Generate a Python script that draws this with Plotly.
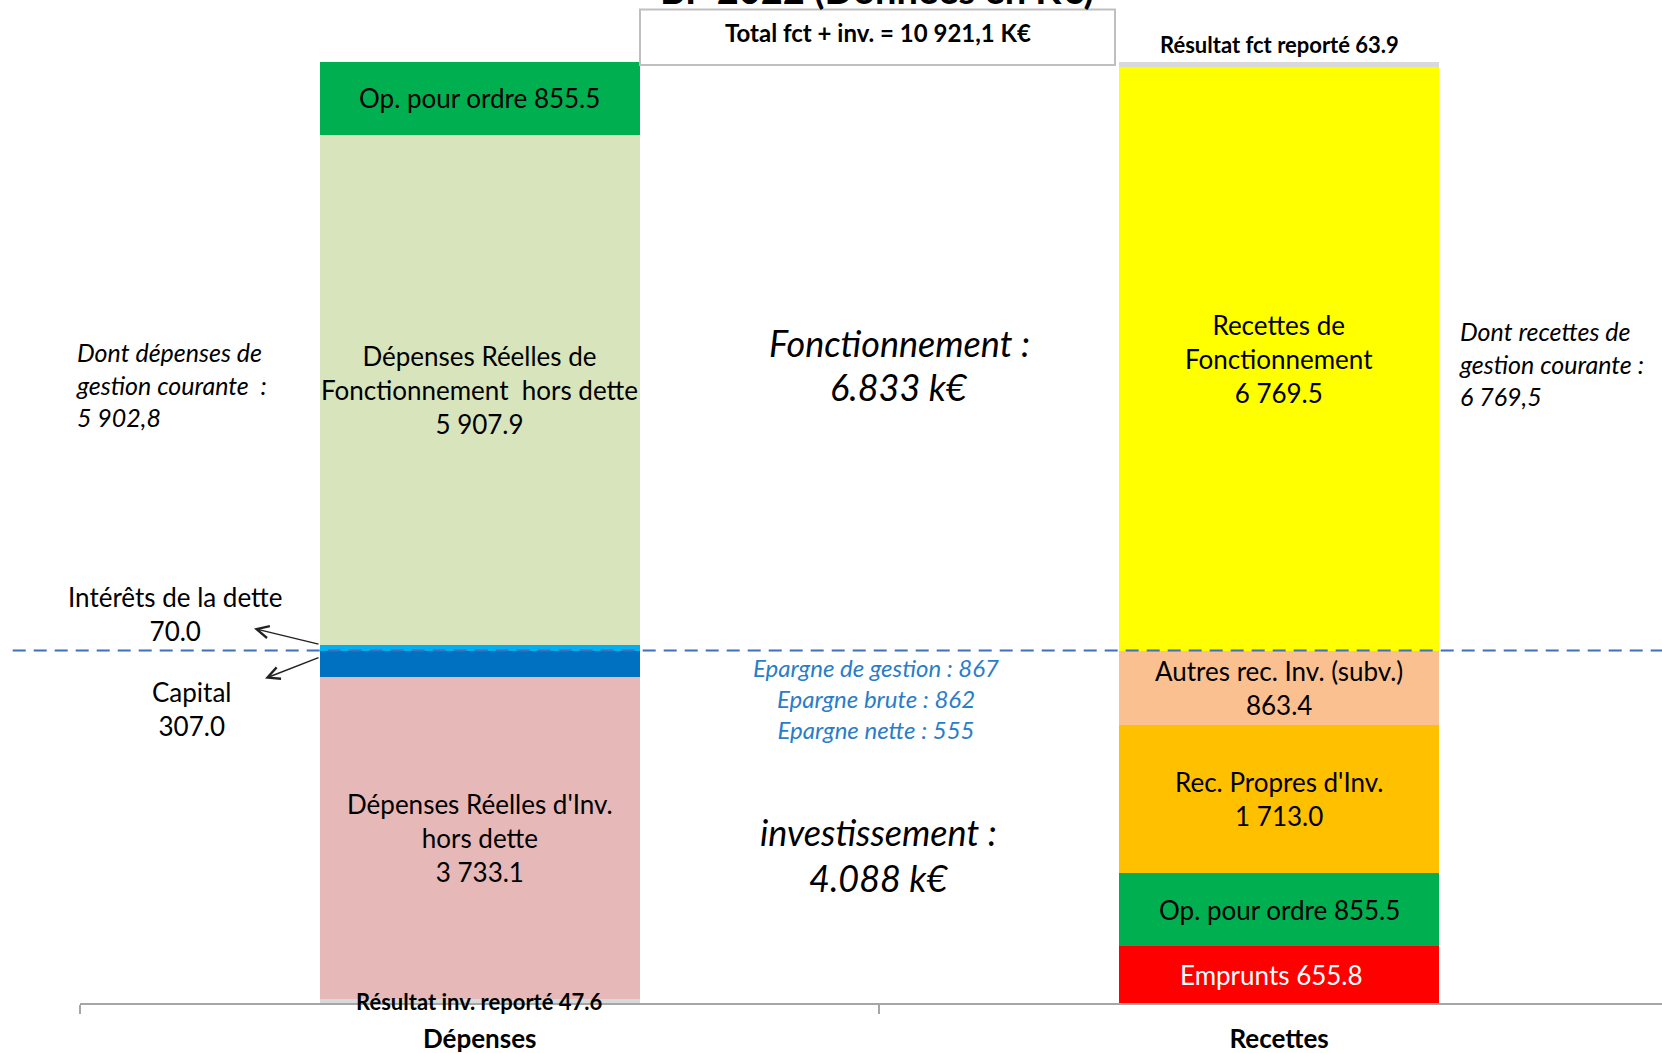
import plotly.graph_objects as go

# ---------------- data ----------------
categories = ["Dépenses", "Recettes"]

dep_names = ["Résultat inv. reporté", "Dépenses Réelles d'Inv.<br>hors dette", "Capital",
             "Intérêts de la dette", "Dépenses Réelles de<br>Fonctionnement  hors dette",
             "Op. pour ordre"]
dep_values = [47.6, 3733.1, 307.0, 70.0, 5907.9, 855.5]

rec_names = ["Emprunts", "Op. pour ordre", "Rec. Propres d'Inv.", "Autres rec. Inv. (subv.)",
             "Recettes de<br>Fonctionnement", "Résultat fct reporté"]
rec_values = [655.8, 855.5, 1713.0, 863.4, 6769.5, 63.9]

epargne_labels = ["Epargne de gestion", "Epargne brute", "Epargne nette"]
epargne_values = [867, 862, 555]

dep_gestion_courante = 5902.8
rec_gestion_courante = 6769.5
title_text = "BP 2022 (Données en K€)"

# ---------------- styles ----------------
dep_colors = ["#D9D9D9", "#E6B8B7", "#0070C0", "#00B0F0", "#D8E4BC", "#00B050"]
rec_colors = ["#FF0000", "#00B050", "#FFC000", "#FAC090", "#FFFF00", "#D9D9D9"]
dep_sep = [" ", "<br>", "<br>", "<br>", "<br>", " "]
rec_sep = [" ", " ", "<br>", "<br>", "<br>", " "]

FONT = "Lato"
W, H = 1662, 1053
ML, MR, MT, MB = 80, 0, 0, 50
PW, PH = W - ML - MR, H - MT - MB
BAR_TOP_PX = 61.5


def fmt(v):
    return f"{v:,.1f}".replace(",", " ")


def fmt_fr(v):
    return f"{v:,.1f}".replace(",", " ").replace(".", ",")


def px(xp):
    return (xp - ML) / PW


def py(yp):
    return (H - MB - yp) / PH


total = sum(dep_values)
y_max = total * PH / (PH - BAR_TOP_PX)

fig = go.Figure()
for names, vals, cols, cat in [(dep_names, dep_values, dep_colors, categories[0]),
                               (rec_names, rec_values, rec_colors, categories[1])]:
    for n, v, c in zip(names, vals, cols):
        fig.add_trace(go.Bar(x=[cat], y=[v], name=n.replace("<br>", " "), width=0.4,
                             marker=dict(color=c, line=dict(width=0)),
                             showlegend=False, hoverinfo="name+y"))

ann = []
TXT = dict(family=FONT, size=26, color="#000000")


def mids(vals):
    out, acc = [], 0
    for v in vals:
        out.append(acc + v / 2)
        acc += v
    return out


def note(xp, yp, text, font, xanchor="center", align="center", yanchor="middle"):
    return dict(x=px(xp), y=py(yp), xref="paper", yref="paper", showarrow=False,
                xanchor=xanchor, yanchor=yanchor, align=align, text=text, font=font)


dep_mid = mids(dep_values)
rec_mid = mids(rec_values)

# labels inside bars
for i in [1, 4, 5]:
    ann.append(dict(x=categories[0], y=dep_mid[i], xref="x", yref="y", showarrow=False,
                    xanchor="center", yanchor="middle",
                    text=dep_names[i] + dep_sep[i] + fmt(dep_values[i]), font=TXT))
for i in [0, 1, 2, 3, 4]:
    f = dict(TXT)
    if i == 0:
        f["color"] = "#FFFFFF"
    ann.append(dict(x=categories[1], y=rec_mid[i], xref="x", yref="y", showarrow=False,
                    xanchor="center", yanchor="middle", xshift=-8 if i == 0 else 0,
                    text=rec_names[i] + rec_sep[i] + fmt(rec_values[i]), font=f))

BOLD = dict(family=FONT, size=22, color="#000000", weight="bold")
# small report labels
ann.append(dict(x=categories[0], y=0, xref="x", yref="y", showarrow=False, yshift=2,
                xanchor="center", yanchor="middle",
                text=dep_names[0] + dep_sep[0] + fmt(dep_values[0]), font=BOLD))
ann.append(dict(x=categories[1], y=total, xref="x", yref="y", showarrow=False,
                xanchor="center", yanchor="bottom", yshift=1,
                text=rec_names[5] + rec_sep[5] + fmt(rec_values[5]), font=BOLD))

# outside labels for debt
ann.append(note(175, 614, dep_names[3] + dep_sep[3] + fmt(dep_values[3]), TXT))
ann.append(note(191, 709, dep_names[2] + dep_sep[2] + fmt(dep_values[2]), TXT))
# arrows
for (hx, hy, tx, ty) in [(254, 628.5, 320, 644.5), (265, 678.5, 320, 657)]:
    ann.append(dict(x=px(hx), y=py(hy), xref="paper", yref="paper", text="",
                    showarrow=True, ax=tx - hx, ay=ty - hy, arrowhead=5, arrowsize=1.6,
                    arrowwidth=1.5, arrowcolor="#222222", standoff=0, startstandoff=0))

# gestion courante notes
ITAL = dict(family=FONT, size=25, color="#000000", style="italic")
ann.append(note(74, 384, "Dont dépenses de<br>gestion courante  :<br>" + fmt_fr(dep_gestion_courante),
                ITAL, xanchor="left", align="left"))
ann.append(note(1457, 363, "Dont recettes de<br>gestion courante :<br>" + fmt_fr(rec_gestion_courante),
                ITAL, xanchor="left", align="left"))

# section totals
fonct_total = sum(dep_values[3:])
inv_total = sum(dep_values[:3])
BIG = dict(family=FONT, size=36, color="#000000", style="italic")
ann.append(note(899, 343, "Fonctionnement :", BIG))
ann.append(note(899, 387, f"{fonct_total / 1000:.3f} k€", BIG))
ann.append(note(878, 832, "investissement :", BIG))
ann.append(note(878, 878, f"{inv_total / 1000:.3f} k€", BIG))

# epargne
ann.append(note(876, 698, "<br>".join(f"{l} : {v}" for l, v in zip(epargne_labels, epargne_values)),
                dict(family=FONT, size=24, color="#2A7DC9", style="italic")))

# total box
ann.append(note(877.5, 32, f"Total fct + inv. = {fmt_fr(total)} K€",
                dict(family=FONT, size=24, color="#000000", weight="bold")))

# title (cut off at top)
ann.append(note(877, 14, title_text, dict(family=FONT, size=38, color="#000000", weight="bold"),
                yanchor="bottom"))

shapes = [
    dict(type="line", xref="paper", yref="y", x0=px(12.7), x1=1.0, y0=inv_total, y1=inv_total,
         line=dict(color="#3F6FBF", width=2, dash="13px,8px"), layer="above"),
    dict(type="rect", xref="paper", yref="paper", x0=px(640), x1=px(1115), y0=py(65), y1=py(9.5),
         line=dict(color="#BFBFBF", width=2), fillcolor="#FFFFFF", layer="above"),
]

fig.update_layout(
    width=W, height=H, margin=dict(l=ML, r=MR, t=MT, b=MB),
    barmode="stack", plot_bgcolor="#FFFFFF", paper_bgcolor="#FFFFFF",
    font=dict(family=FONT, color="#000000"),
    annotations=ann, shapes=shapes, showlegend=False,
    xaxis=dict(type="category", categoryorder="array", categoryarray=categories,
               range=[-0.5, 1.479], showline=True, linecolor="#A6A6A6", linewidth=2,
               ticks="outside", tickson="boundaries", ticklen=9, tickcolor="#A6A6A6",
               tickwidth=2, showgrid=False, zeroline=False, ticklabelstandoff=12,
               tickfont=dict(family=FONT, size=26, color="#000000", weight="bold")),
    yaxis=dict(range=[0, y_max], visible=False, showgrid=False, zeroline=False),
)

fig.write_html("out.html", config={"displayModeBar": False},
               post_script="document.body.style.margin='0';")
